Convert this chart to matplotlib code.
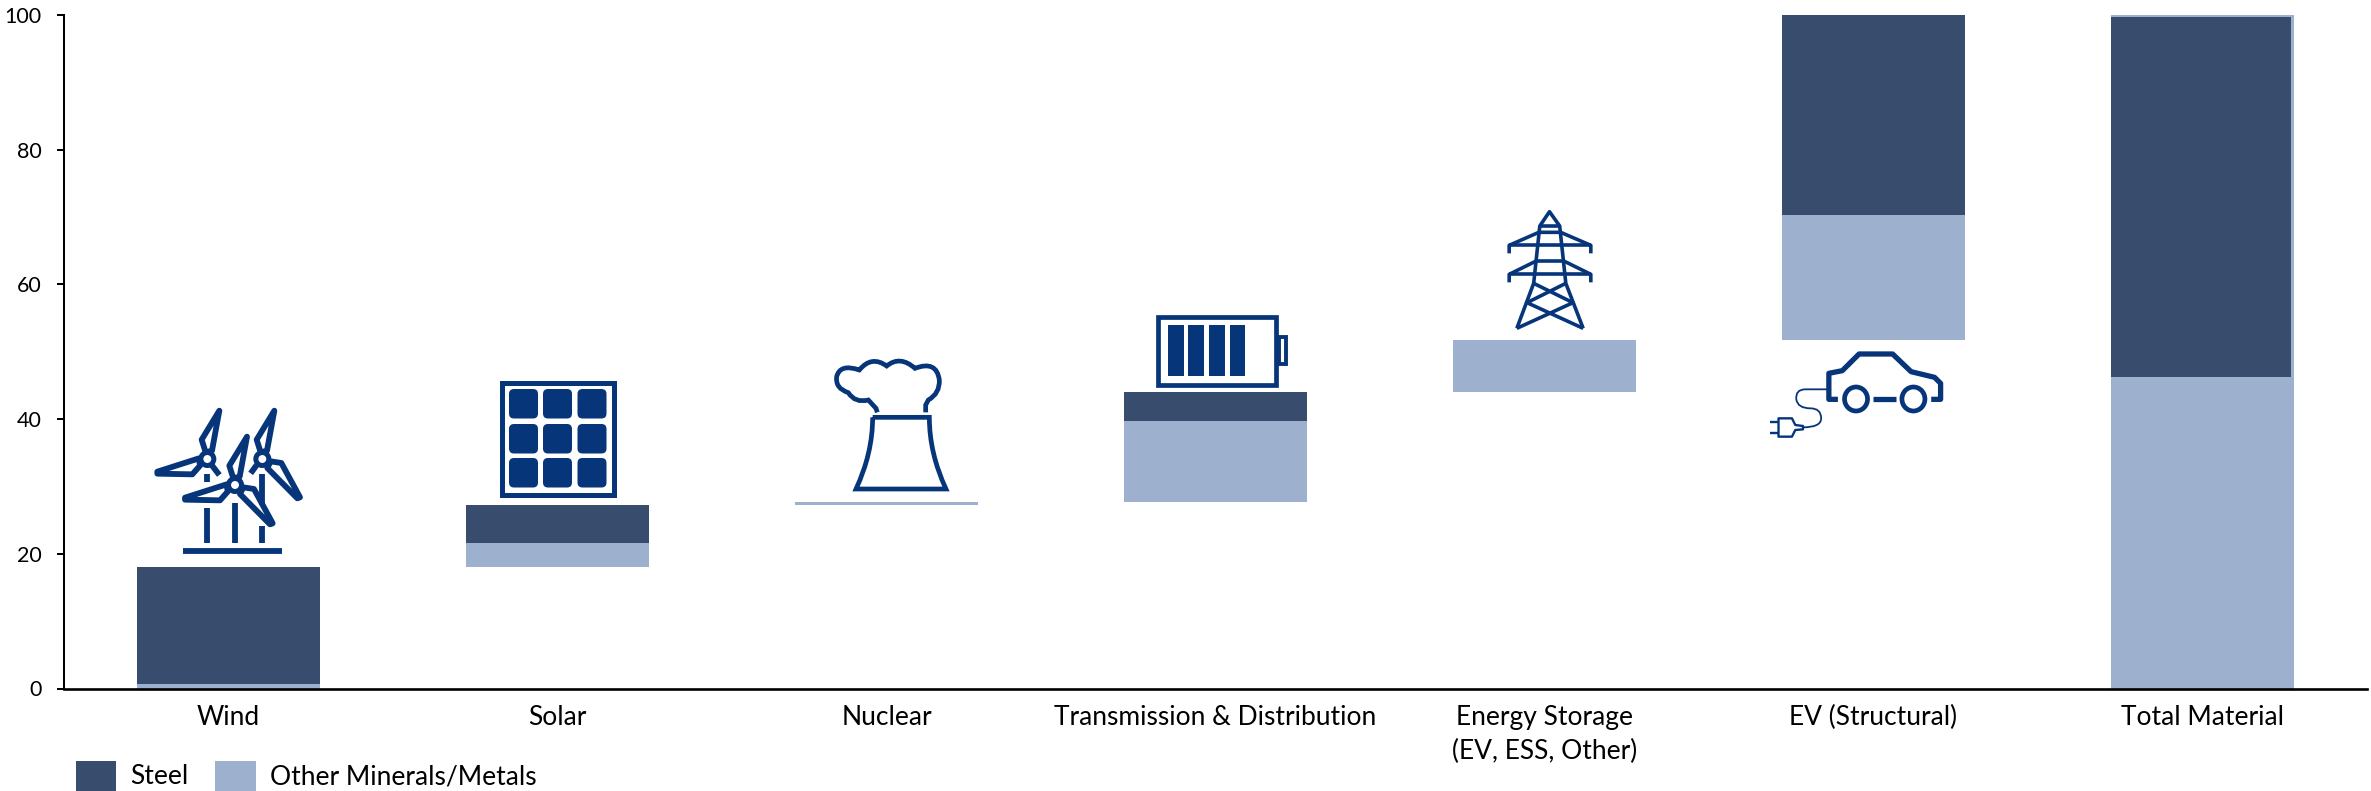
import numpy as np
import matplotlib
matplotlib.use("Agg")
import matplotlib.pyplot as plt
from matplotlib.patches import Rectangle, FancyBboxPatch, Ellipse, PathPatch, Polygon
from matplotlib.path import Path

plt.rcParams['font.family'] = ['Lato', 'DejaVu Sans']

categories = ["Wind", "Solar", "Nuclear", "Transmission & Distribution",
              "Energy Storage\n(EV, ESS, Other)", "EV (Structural)", "Total Material"]
other_vals = [0.7, 3.65, 0.45, 11.95, 7.85, 18.5, 46.25]
steel_vals = [17.3, 5.6, 0.0, 4.3, 0.0, 29.75, 53.45]
y_ticks = [0, 20, 40, 60, 80, 100]

STEEL = "#384d6e"
OTHER = "#9db0ce"
ICON = "#07357a"

W, H = 2371, 791
fig = plt.figure(figsize=(W / 100, H / 100), dpi=100)
ax = fig.add_axes([64 / W, 1 - 688.5 / H, 2303 / W, 673.5 / H])

# waterfall: each bar starts where the last one ended
other_arr = np.array(other_vals)
steel_arr = np.array(steel_vals)
bottoms = np.concatenate([[0], np.cumsum(other_arr + steel_arr)[:-1]])
bottoms[-1] = 0
x = np.arange(len(categories))
bar_w = 0.556
# the total bar's steel sits a little short of the light bar behind it
steel_w = np.array([bar_w] * 6 + [bar_w - 0.008])
ax.bar(6, 100, bar_w, color=OTHER, lw=0)
ax.bar(x, other_vals, bar_w, bottom=bottoms, color=OTHER, lw=0, label="Other Minerals/Metals")
ax.bar(x - bar_w / 2, steel_vals, steel_w, bottom=bottoms + other_arr, color=STEEL, lw=0,
       align='edge', label="Steel")

ax.set_xlim(-0.5, 6.5)
ax.set_ylim(0, 100)
ax.set_yticks(y_ticks)
ax.set_xticks(x)
ax.set_xticklabels(categories, fontsize=19, linespacing=1.45)
ax.tick_params(axis='x', length=0, pad=12)
ax.tick_params(axis='y', length=5, width=1.45, labelsize=15.5, pad=11)
for side in ['top', 'right']:
    ax.spines[side].set_visible(False)
ax.spines['left'].set_linewidth(1.45)
ax.spines['bottom'].set_linewidth(1.9)

# overlay in picture pixels for the icons and the legend
ov = fig.add_axes([0, 0, 1, 1])
ov.set_xlim(0, W)
ov.set_ylim(H, 0)
ov.axis('off')
ov.patch.set_alpha(0)

# legend (runs off the bottom edge in the original)
ov.add_patch(Rectangle((76, 761), 40, 30, color=STEEL, lw=0))
ov.add_patch(Rectangle((215, 761), 41, 30, color=OTHER, lw=0))
ov.text(130, 777, "Steel", fontsize=19, va='center')
ov.text(270, 777, "Other Minerals/Metals", fontsize=19, va='center')


def stroke(pts, lw, closed=False, fill='none'):
    p = Polygon(pts, closed=closed, fc=fill, ec=ICON, lw=lw, joinstyle='round', capstyle='butt')
    ov.add_patch(p)


# wind: zoom coords, 3x
def wz(px, py):
    return 130 + px / 3, 390 + py / 3


up_blade = [(-5, -20), (-17, -58), (36, -145), (14, -25)]
left_blade = [(-25, -2), (-150, 38), (-150, 44), (-45, 46), (-22, 20)]
right_blade = [(25, 7), (57, 12), (113, 115), (105, 118), (15, 27)]
# blades hidden behind the middle turbine only show as short stubs
right_stub = [(13, 18), (36, 48)]
left_stub = [(-17, 18), (-35, 43)]
turbines = [(232, 207, [up_blade, left_blade], right_stub),
            (397, 207, [up_blade, right_blade], left_stub),
            (315, 285, [up_blade, left_blade, right_blade], None)]
towers = [(232, 253, 277), (232, 355, 460), (315, 340, 460), (397, 253, 345), (397, 408, 460)]
for tx, y0, y1 in towers:
    ov.plot(*zip(wz(tx, y0), wz(tx, y1)), color=ICON, lw=4.2, solid_capstyle='butt')
ov.plot(*zip(wz(158, 484), wz(457, 484)), color=ICON, lw=4.2, solid_capstyle='butt')
for hx, hy, blades, stub in turbines:
    for blade in blades:
        stroke([wz(hx + a, hy + b) for a, b in blade], 4.2, closed=True, fill='white')
    if stub:
        stroke([wz(hx + a, hy + b) for a, b in stub], 4.2)
    ov.add_patch(Ellipse(wz(hx, hy), 13, 13, fc='white', ec=ICON, lw=3.6))

# solar
ov.add_patch(Rectangle((501.5, 382.5), 112, 112, fc='white', ec=ICON, lw=3.6))
for cx in [509, 543, 577.5]:
    for cy in [389, 424, 458]:
        ov.add_patch(FancyBboxPatch((cx + 4, cy + 4), 21, 21.5, boxstyle="round,pad=4,rounding_size=5",
                                    fc=ICON, ec='none'))


# nuclear
def nz(px, py):
    return 800 + px / 3, 340 + py / 3


tower = [(218, 232, Path.MOVETO), (218, 340, Path.CURVE3), (168, 447, Path.CURVE3),
         (438, 447, Path.LINETO), (388, 340, Path.CURVE3), (388, 232, Path.CURVE3),
         (218, 232, Path.LINETO)]
ov.add_patch(PathPatch(Path([nz(a, b) for a, b, c in tower], [c for a, b, c in tower]),
                       fc='none', ec=ICON, lw=3.4, joinstyle='miter'))
cloud = [(232, 217, Path.MOVETO), (228, 205, Path.LINETO), (205, 180, Path.LINETO),
         (165, 190, Path.CURVE3), (145, 158, Path.CURVE3),
         (105, 145, Path.CURVE3), (110, 110, Path.CURVE3),
         (120, 70, Path.CURVE3), (178, 90, Path.CURVE3),
         (215, 45, Path.CURVE3), (260, 78, Path.CURVE3),
         (300, 45, Path.CURVE3), (345, 85, Path.CURVE3),
         (410, 60, Path.CURVE3), (418, 120, Path.CURVE3),
         (420, 160, Path.CURVE3), (385, 180, Path.CURVE3),
         (377, 195, Path.LINETO), (377, 217, Path.LINETO)]
ov.add_patch(PathPatch(Path([nz(a, b) for a, b, c in cloud], [c for a, b, c in cloud]),
                       fc='none', ec=ICON, lw=3.4))

# battery
ov.add_patch(Rectangle((1157.5, 316.5), 118.5, 68, fc='white', ec=ICON, lw=3.4))
ov.add_patch(Rectangle((1278.6, 337), 7.5, 27, fc='white', ec=ICON, lw=2.8))
for bx in [1167.9, 1188.3, 1209, 1229.6]:
    ov.add_patch(Rectangle((bx, 324.7), 15.6, 51.3, fc=ICON, ec='none'))


# pylon
def pz(px, py):
    return 800 + px / 1.96, 200 + py / 3


pylon_lines = [
    [(1405, 385), (1438, 250), (1450, 78), (1469, 35), (1489, 78), (1501, 250), (1535, 385)],
    [(1450, 78), (1489, 78)],
    [(1390, 160), (1390, 136), (1448, 97), (1491, 97), (1550, 136), (1550, 160)],
    [(1390, 136), (1550, 136)],
    [(1390, 247), (1390, 223), (1443, 183), (1497, 183), (1550, 223), (1550, 247)],
    [(1390, 223), (1550, 223)],
    [(1438, 250), (1515, 308), (1405, 385)],
    [(1501, 250), (1425, 308), (1535, 385)],
]
for line in pylon_lines:
    stroke([pz(a, b) for a, b in line], 2.6)


# car
def cz(px, py):
    return 1750 + px / 2.98, 340 + py / 3


body = [(262, 178), (235, 178), (235, 100), (275, 92), (325, 42), (425, 42), (480, 95),
        (550, 112), (568, 130), (568, 178), (540, 178)]
stroke([cz(a, b) for a, b in body], 3.8)
stroke([cz(368, 177), cz(435, 177)], 3.8)
for wx in [316, 487]:
    ov.add_patch(Ellipse(cz(wx, 177), 23, 24, fc='white', ec=ICON, lw=3.4))
cord = [(230, 148, Path.MOVETO), (165, 148, Path.LINETO), (135, 148, Path.CURVE3), (138, 178, Path.CURVE3),
        (142, 205, Path.CURVE3), (180, 205, Path.CURVE3), (212, 205, Path.CURVE3), (212, 235, Path.CURVE3),
        (212, 262, Path.CURVE3), (158, 262, Path.CURVE3)]
ov.add_patch(PathPatch(Path([cz(a, b) for a, b, c in cord], [c for a, b, c in cord]),
                       fc='none', ec=ICON, lw=1.3))
plug = [(85, 235), (125, 235), (135, 255), (158, 258), (158, 268), (135, 270), (125, 290), (85, 290)]
stroke([cz(a, b) for a, b in plug], 1.7, closed=True, fill='white')
stroke([cz(60, 246), cz(85, 246)], 1.7)
stroke([cz(60, 278), cz(85, 278)], 1.7)

fig.savefig("out.png", dpi=100)
